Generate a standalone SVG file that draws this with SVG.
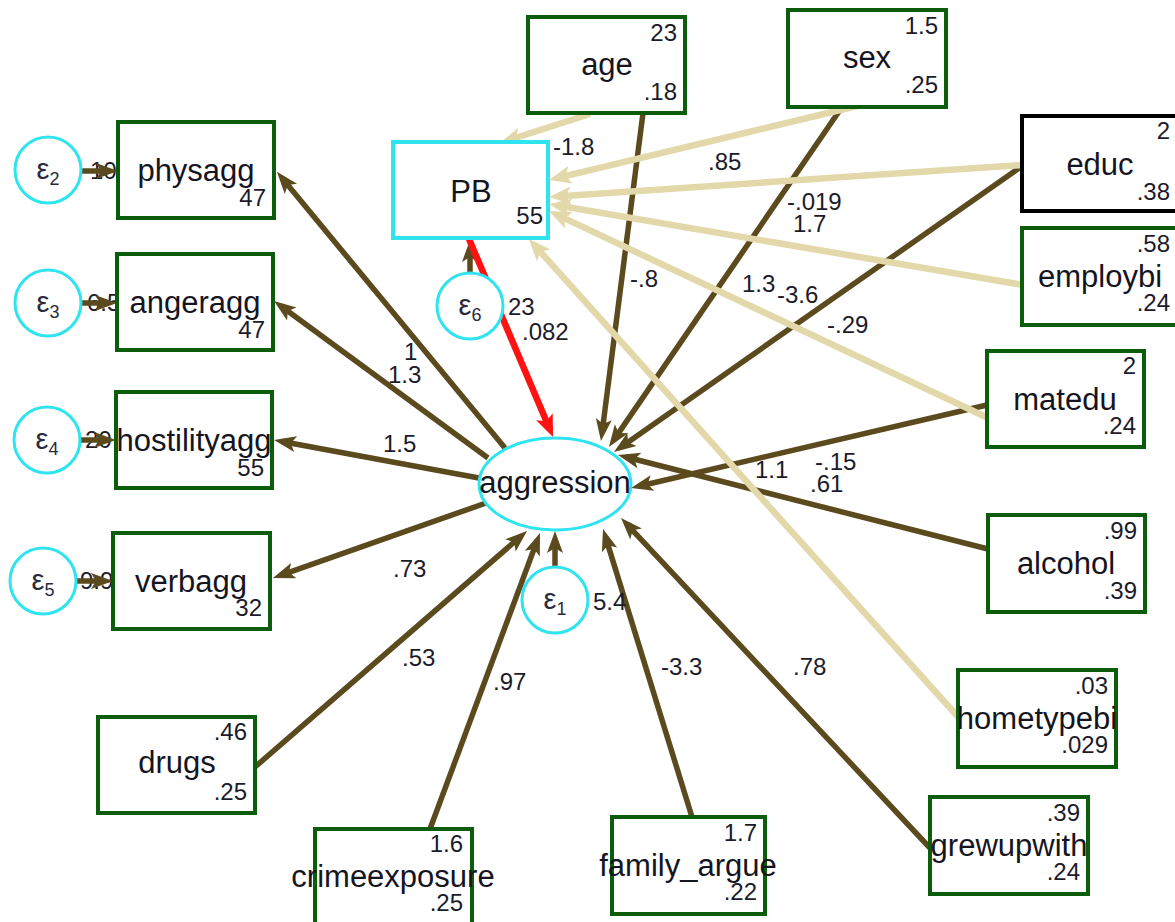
<svg xmlns="http://www.w3.org/2000/svg" width="1175" height="922" viewBox="0 0 1175 922">
<style>
.box{fill:#fff;stroke:#0b5d0b;stroke-width:4}
.boxk{fill:#fff;stroke:#000;stroke-width:4}
.boxc{fill:#fff;stroke:#2fe4ee;stroke-width:4}
.lat{fill:#fff;stroke:#2fe4ee;stroke-width:3}
.nm{font-family:"Liberation Sans",Arial,sans-serif;font-size:31px;fill:#15151f;text-anchor:middle}
.nu{font-family:"Liberation Sans",Arial,sans-serif;font-size:24px;fill:#1b1b2b;text-anchor:end}
.lb{font-family:"Liberation Sans",Arial,sans-serif;font-size:24px;fill:#1b1b2b}
.ep{font-family:"Liberation Sans",Arial,sans-serif;font-size:29px;fill:#2a2a3a;text-anchor:middle}
.br{fill:none;stroke:#5b4a1d;stroke-width:5.5;marker-end:url(#ab)}
.be{fill:none;stroke:#e3d8a9;stroke-width:6.5;marker-end:url(#ae)}
.rd{fill:none;stroke:#ff1212;stroke-width:6.5;marker-end:url(#ar)}
</style>
<defs>
<marker id="ab" markerUnits="userSpaceOnUse" markerWidth="22" markerHeight="16" refX="14" refY="8" orient="auto" overflow="visible"><path d="M0,0 L22,8 L0,16 L5,8 z" fill="#5b4a1d"/></marker>
<marker id="ae" markerUnits="userSpaceOnUse" markerWidth="22" markerHeight="18" refX="14" refY="9" orient="auto" overflow="visible"><path d="M0,0 L22,9 L0,18 L5,9 z" fill="#e3d8a9"/></marker>
<marker id="ar" markerUnits="userSpaceOnUse" markerWidth="22" markerHeight="18" refX="14" refY="9" orient="auto" overflow="visible"><path d="M0,0 L22,9 L0,18 L5,9 z" fill="#ff1212"/></marker>
</defs>
<rect width="1175" height="922" fill="#fff"/>

<g id="err-labels">
<text class="lb" x="90" y="179">10</text>
<text class="lb" x="87" y="311">6.5</text>
<text class="lb" x="85" y="448">20</text>
<text class="lb" x="80" y="589">9.9</text>
</g>

<g id="connectors">
<path class="br" d="M505,448 L282,178"/>
<path class="br" d="M488,458 L280.5,305.7"/>
<path class="br" d="M479,478 L281.9,441.5"/>
<path class="br" d="M486,503 L280.5,575.3"/>
<path class="br" d="M255,767 L521,536.2"/>
<path class="br" d="M430,829 L537.2,540.5"/>
<path class="br" d="M555,568 L555,539"/>
<path class="br" d="M692,817 L605.4,536.6"/>
<path class="br" d="M930,848 L626.5,523.8"/>
<path class="br" d="M988,549 L625.8,457"/>
<path class="br" d="M987,405 L638.8,486.2"/>
<path class="br" d="M1022,166 L620.5,447.4"/>
<path class="br" d="M842,107 L613.5,440.4"/>
<path class="br" d="M643,113 L602,433"/>
<path class="br" d="M470,274 L470,248"/>
<path class="br" d="M81,171 L110,171"/>
<path class="br" d="M81,303 L109,303"/>
<path class="br" d="M79,440 L108,440"/>
<path class="br" d="M75,581 L105,581"/>
<path class="be" d="M590,114 L507.6,140.5"/>
<path class="be" d="M857,106 L556.8,178.1"/>
<path class="be" d="M1022,165 L557,196.5"/>
<path class="be" d="M1023,285 L556.9,205.3"/>
<path class="be" d="M988,418 L556.2,214.4"/>
<path class="be" d="M959,718 L534.3,245"/>
<path class="rd" d="M469,239 L549.9,429.6"/>
</g>

<g id="path-labels">
<text class="lb" x="553" y="155">-1.8</text>
<text class="lb" x="708" y="170">.85</text>
<text class="lb" x="787" y="210">-.019</text>
<text class="lb" x="793" y="232">1.7</text>
<text class="lb" x="630" y="287">-.8</text>
<text class="lb" x="742" y="292">1.3</text>
<text class="lb" x="777" y="303">-3.6</text>
<text class="lb" x="827" y="333">-.29</text>
<text class="lb" x="508" y="315">23</text>
<text class="lb" x="522" y="340">.082</text>
<text class="lb" x="404" y="360">1</text>
<text class="lb" x="388" y="383">1.3</text>
<text class="lb" x="383" y="452">1.5</text>
<text class="lb" x="393" y="577">.73</text>
<text class="lb" x="593" y="610">5.4</text>
<text class="lb" x="402" y="666">.53</text>
<text class="lb" x="493" y="690">.97</text>
<text class="lb" x="661" y="675">-3.3</text>
<text class="lb" x="793" y="675">.78</text>
<text class="lb" x="755" y="478">1.1</text>
<text class="lb" x="815" y="470">-.15</text>
<text class="lb" x="810" y="492">.61</text>
</g>

<g id="physagg"><rect class="box" x="118" y="122" width="156" height="96"/><text class="nm" x="196" y="181">physagg</text><text class="nu" x="266" y="206">47</text></g>
<g id="angeragg"><rect class="box" x="117" y="254" width="156" height="96"/><text class="nm" x="195" y="313">angeragg</text><text class="nu" x="265" y="338">47</text></g>
<g id="hostilityagg"><rect class="box" x="116" y="392" width="156" height="96"/><text class="nm" x="194" y="451">hostilityagg</text><text class="nu" x="264" y="476">55</text></g>
<g id="verbagg"><rect class="box" x="113" y="533" width="157" height="96"/><text class="nm" x="191" y="592">verbagg</text><text class="nu" x="262" y="616">32</text></g>

<g id="e2"><circle class="lat" cx="48" cy="170" r="33"/><text class="ep" x="48" y="179">ε<tspan font-size="18" dy="6">2</tspan></text></g>
<g id="e3"><circle class="lat" cx="48" cy="303" r="33"/><text class="ep" x="48" y="312">ε<tspan font-size="18" dy="6">3</tspan></text></g>
<g id="e4"><circle class="lat" cx="47" cy="440" r="33"/><text class="ep" x="47" y="449">ε<tspan font-size="18" dy="6">4</tspan></text></g>
<g id="e5"><circle class="lat" cx="43" cy="581" r="33"/><text class="ep" x="43" y="590">ε<tspan font-size="18" dy="6">5</tspan></text></g>
<g id="e6"><circle class="lat" cx="470" cy="306" r="33"/><text class="ep" x="470" y="315">ε<tspan font-size="18" dy="6">6</tspan></text></g>
<g id="e1"><circle class="lat" cx="555" cy="600" r="33"/><text class="ep" x="555" y="609">ε<tspan font-size="18" dy="6">1</tspan></text></g>

<g id="PB"><rect class="boxc" x="393" y="142" width="155" height="96"/><text class="nm" x="471" y="202">PB</text><text class="nu" x="543" y="224">55</text></g>
<g id="aggression"><ellipse class="lat" cx="555" cy="484" rx="76" ry="46"/><text class="nm" x="555" y="493">aggression</text></g>

<g id="age"><rect class="box" x="528" y="17" width="157" height="96"/><text class="nm" x="607" y="75">age</text><text class="nu" x="677" y="41">23</text><text class="nu" x="677" y="100">.18</text></g>
<g id="sex"><rect class="box" x="788" y="10" width="158" height="97"/><text class="nm" x="867" y="68">sex</text><text class="nu" x="938" y="34">1.5</text><text class="nu" x="938" y="93">.25</text></g>
<g id="educ"><rect class="boxk" x="1022" y="116" width="157" height="95"/><text class="nm" x="1100" y="175">educ</text><text class="nu" x="1170" y="139">2</text><text class="nu" x="1170" y="200">.38</text></g>
<g id="employbi"><rect class="box" x="1022" y="228" width="157" height="97"/><text class="nm" x="1100" y="287">employbi</text><text class="nu" x="1170" y="252">.58</text><text class="nu" x="1170" y="311">.24</text></g>
<g id="matedu"><rect class="box" x="987" y="351" width="157" height="96"/><text class="nm" x="1065" y="410">matedu</text><text class="nu" x="1136" y="374">2</text><text class="nu" x="1136" y="434">.24</text></g>
<g id="alcohol"><rect class="box" x="988" y="515" width="157" height="97"/><text class="nm" x="1066" y="574">alcohol</text><text class="nu" x="1137" y="539">.99</text><text class="nu" x="1137" y="599">.39</text></g>
<g id="hometypebi"><rect class="box" x="958" y="670" width="158" height="97"/><text class="nm" x="1037" y="729">hometypebi</text><text class="nu" x="1108" y="694">.03</text><text class="nu" x="1108" y="753">.029</text></g>
<g id="grewupwith"><rect class="box" x="930" y="797" width="158" height="97"/><text class="nm" x="1009" y="856">grewupwith</text><text class="nu" x="1080" y="821">.39</text><text class="nu" x="1080" y="880">.24</text></g>
<g id="family_argue"><rect class="box" x="612" y="817" width="153" height="97"/><text class="nm" x="688" y="876">family_argue</text><text class="nu" x="757" y="841">1.7</text><text class="nu" x="757" y="900">.22</text></g>
<g id="crimeexposure"><rect class="box" x="315" y="829" width="157" height="96"/><text class="nm" x="393" y="887">crimeexposure</text><text class="nu" x="463" y="852">1.6</text><text class="nu" x="463" y="911">.25</text></g>
<g id="drugs"><rect class="box" x="98" y="717" width="157" height="96"/><text class="nm" x="177" y="773">drugs</text><text class="nu" x="247" y="740">.46</text><text class="nu" x="247" y="800">.25</text></g>
</svg>
